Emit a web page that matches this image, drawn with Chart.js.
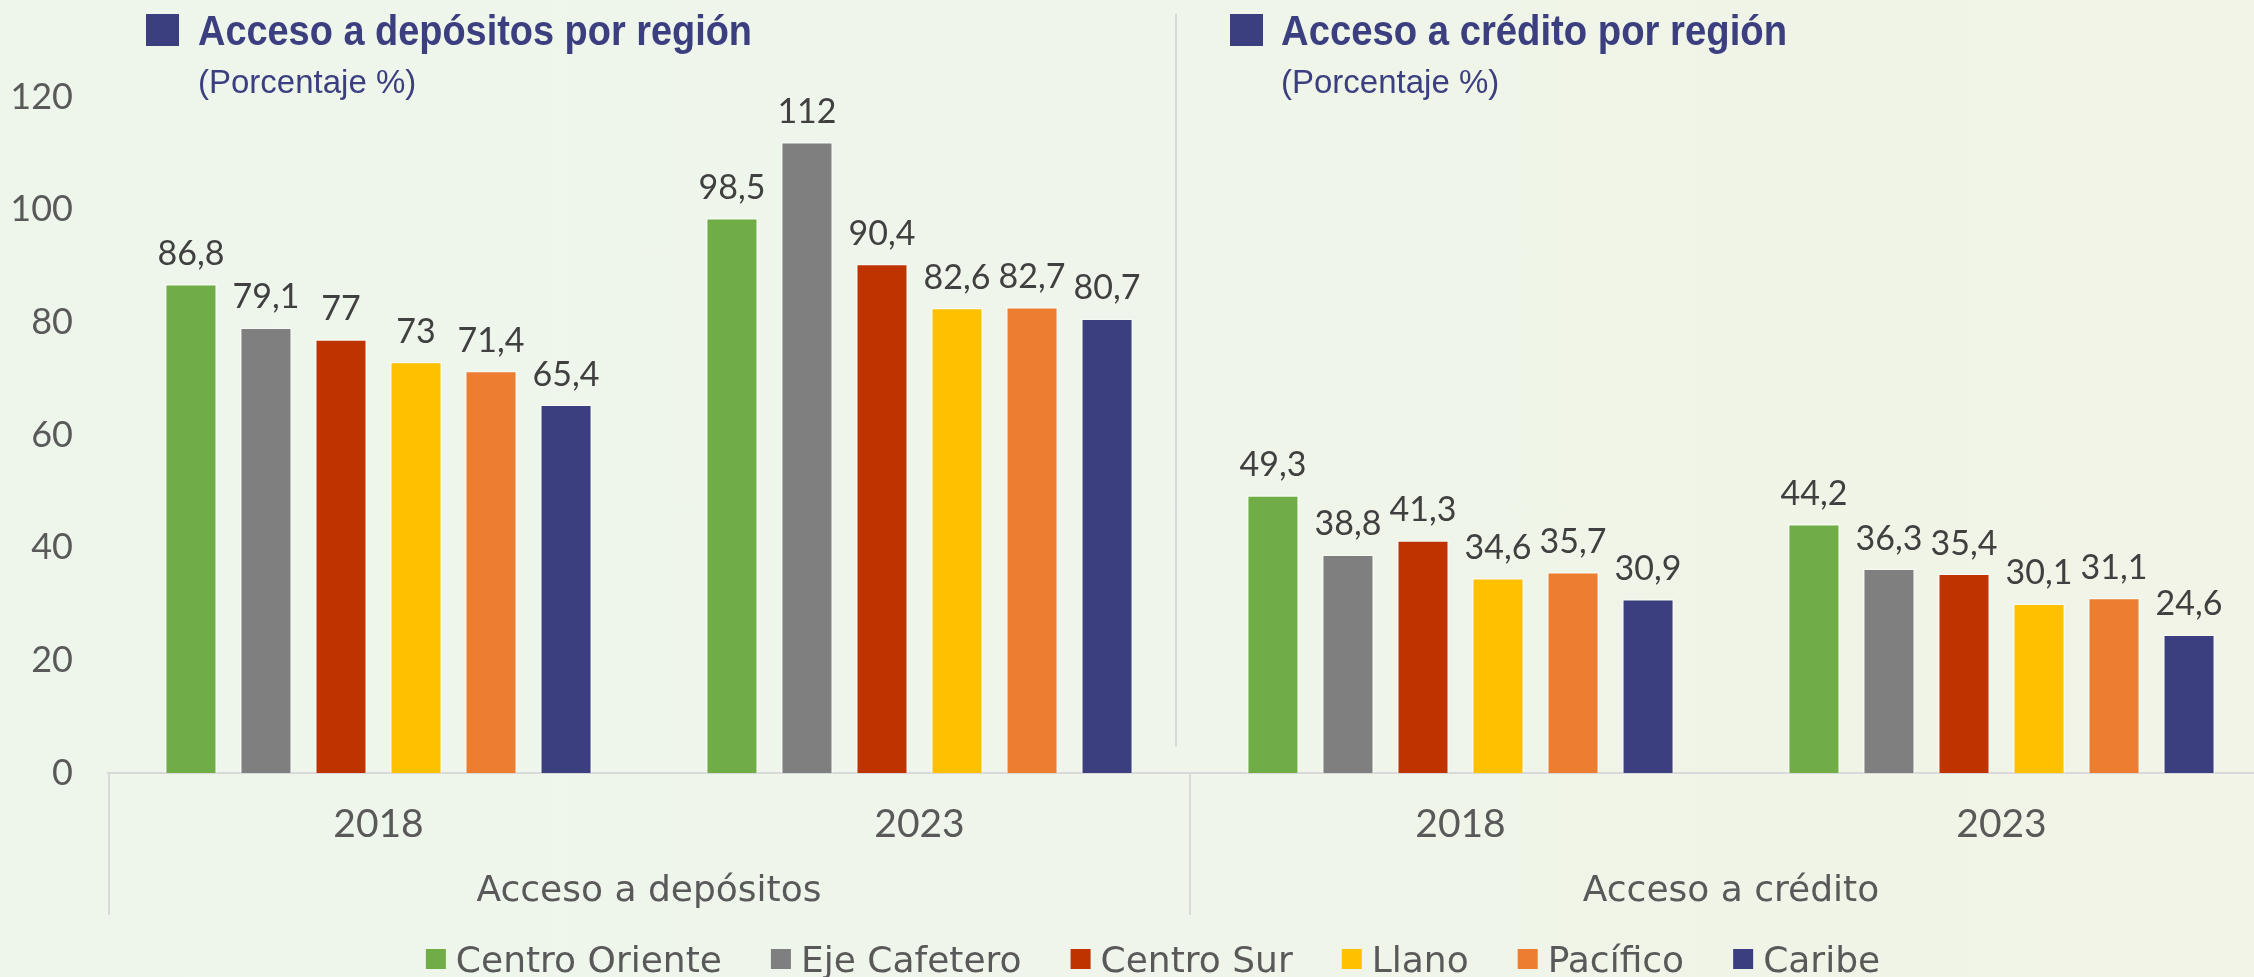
<!DOCTYPE html>
<html><head><meta charset="utf-8">
<script src="https://cdn.jsdelivr.net/npm/chart.js@4.4.1/dist/chart.umd.min.js"></script>
<style>
html,body{margin:0;padding:0;overflow:hidden;width:2254px;height:977px;}
body{background:linear-gradient(90deg,#EEF6EC 0%,#EFF5EA 50%,#F1F4E6 100%);position:relative;}
#wrap{position:absolute;left:0;top:0;width:2272px;height:977px;}
</style></head>
<body>
<div id="wrap"><canvas id="c"></canvas></div>
<script>
const years = ['2018', '2023', '2018', '2023'];
const groups = ['Acceso a depósitos', 'Acceso a crédito'];
const regions = ['Centro Oriente', 'Eje Cafetero', 'Centro Sur', 'Llano', 'Pacífico', 'Caribe'];
const centroOriente = [86.8, 98.5, 49.3, 44.2];
const ejeCafetero   = [79.1, 112, 38.8, 36.3];
const centroSur     = [77, 90.4, 41.3, 35.4];
const llano         = [73, 82.6, 34.6, 30.1];
const pacifico      = [71.4, 82.7, 35.7, 31.1];
const caribe        = [65.4, 80.7, 30.9, 24.6];
const yTicks = [0, 20, 40, 60, 80, 100, 120];
const titles = ['Acceso a depósitos por región', 'Acceso a crédito por región'];
const subtitle = '(Porcentaje %)';

const colors = ['#70AD47', '#7F7F7F', '#BF3300', '#FFC000', '#ED7D31', '#3B3F7F'];
const series = [centroOriente, ejeCafetero, centroSur, llano, pacifico, caribe];
const TXT = '#595959';
const NUMFONT = 'Lato, "Open Sans", sans-serif';
const WORDFONT = '"DejaVu Sans", Lato, sans-serif';

const decor = {
  id: 'decor',
  beforeDatasetsDraw(chart) {
    const {ctx, chartArea: a, scales: {x}} = chart;
    ctx.save();
    ctx.strokeStyle = '#D9D9D9';
    ctx.lineWidth = 2;
    const mid = (x.getPixelForValue(1) + x.getPixelForValue(2)) / 2;
    [a.left + 1, mid, a.right - 1].forEach(px => {
      ctx.beginPath(); ctx.moveTo(px, a.bottom); ctx.lineTo(px, 915); ctx.stroke();
    });
    ctx.beginPath(); ctx.moveTo(1176, 14); ctx.lineTo(1176, 747); ctx.stroke();
    ctx.restore();
  },
  afterDatasetsDraw(chart) {
    const {ctx} = chart;
    ctx.save();
    ctx.font = '34px ' + NUMFONT;
    ctx.fillStyle = '#404040';
    ctx.textAlign = 'center';
    ctx.textBaseline = 'alphabetic';
    chart.data.datasets.forEach((ds, di) => {
      chart.getDatasetMeta(di).data.forEach((bar, i) => {
        ctx.fillText(String(ds.data[i]).replace('.', ','), bar.x, bar.y - 19);
      });
    });
    ctx.restore();
  },
  afterDraw(chart) {
    const {ctx} = chart;
    ctx.save();
    // titles
    const pos = [[146, 198, 554], [1230, 1281, 506]];
    pos.forEach((p, k) => {
      ctx.fillStyle = '#3B3F7F';
      ctx.fillRect(p[0], 14, 33, 32);
      ctx.font = 'bold 42px "Liberation Sans", sans-serif';
      ctx.textAlign = 'left';
      ctx.textBaseline = 'alphabetic';
      ctx.fillText(titles[k], p[1], 45, p[2]);
      ctx.font = '33px "Liberation Sans", sans-serif';
      ctx.fillText(subtitle, p[1], 93, 220);
    });
    // legend
    ctx.font = '36px ' + WORDFONT;
    const items = chart.data.datasets.map(ds => ({text: ds.label, color: ds.backgroundColor, w: ctx.measureText(ds.label).width}));
    const total = items.reduce((s, it) => s + 30 + it.w, 0) + 49 * (items.length - 1);
    let lx = 1153 - total / 2;
    items.forEach(it => {
      ctx.fillStyle = it.color;
      ctx.fillRect(lx, 949, 20, 20);
      ctx.fillStyle = TXT;
      ctx.fillText(it.text, lx + 30, 972);
      lx += 30 + it.w + 49;
    });
    ctx.restore();
  }
};

new Chart(document.getElementById('c'), {
  type: 'bar',
  data: {
    labels: years,
    datasets: regions.map((r, i) => ({
      label: r,
      data: series[i],
      backgroundColor: colors[i],
      borderColor: 'rgba(255,255,255,0.45)',
      borderWidth: 1.5,
      categoryPercentage: 0.832,
      barPercentage: 0.693
    }))
  },
  options: {
    responsive: true,
    maintainAspectRatio: false,
    animation: false,
    events: [],
    layout: {padding: {top: 97, left: 0, right: 0, bottom: 44}},
    plugins: {
      tooltip: {enabled: false},
      legend: {display: false}
    },
    scales: {
      y: {
        min: 0, max: 120,
        afterBuildTicks(s) { s.ticks = yTicks.map(v => ({value: v})); },
        afterFit(s) { s.width = 108; },
        grid: {display: false, drawTicks: false},
        border: {display: false},
        ticks: {font: {family: NUMFONT, size: 36}, color: TXT, padding: 35}
      },
      x: {
        weight: 0,
        afterFit(s) { s.height = 90; },
        grid: {display: false, drawTicks: false},
        border: {display: true, color: '#D9D9D9', width: 2},
        ticks: {font: {family: NUMFONT, size: 39}, color: TXT, padding: 28, maxRotation: 0}
      },
      x2: {
        axis: 'x',
        type: 'category',
        labels: groups,
        position: 'bottom',
        offset: true,
        weight: 1,
        afterFit(s) { s.height = 70; },
        grid: {display: false, drawTicks: false},
        border: {display: false},
        ticks: {font: {family: WORDFONT, size: 36}, color: TXT, padding: 7, maxRotation: 0}
      }
    }
  },
  plugins: [decor]
});
</script>
</body></html>
